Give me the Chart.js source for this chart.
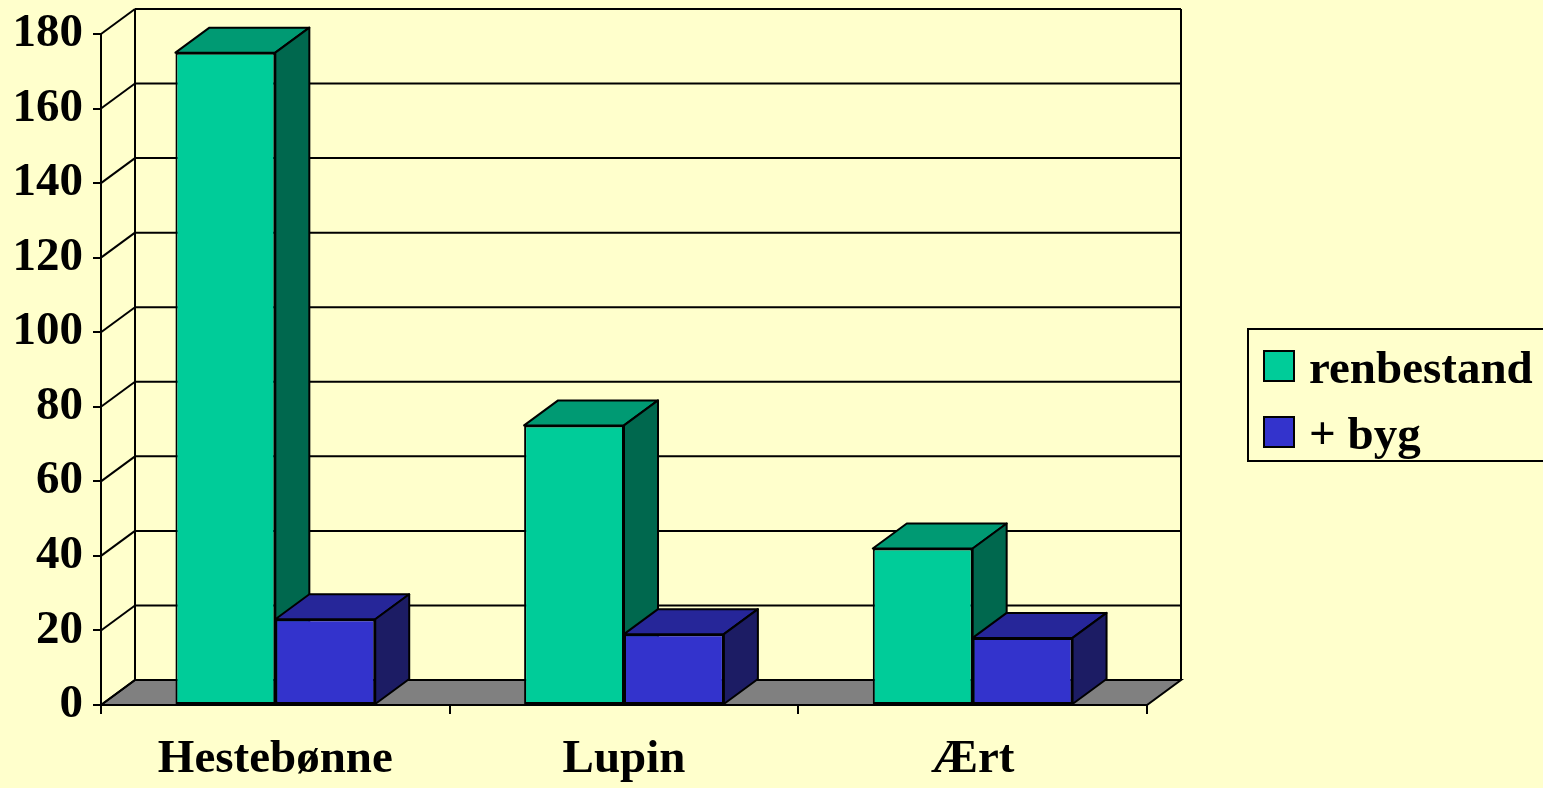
<!DOCTYPE html>
<html>
<head>
<meta charset="utf-8">
<title>Avling</title>
<script src="https://cdn.jsdelivr.net/npm/chart.js"></script>
<style>
  html, body { margin: 0; padding: 0; background: #ffffcc; overflow: hidden; }
  #wrap { position: relative; width: 1543px; height: 788px; }
</style>
</head>
<body>
<div id="wrap"><canvas id="chart"></canvas></div>
<script>
// Data
const categories = ['Hestebønne', 'Lupin', 'Ært'];
const seriesNames = ['renbestand', '+ byg'];
const renbestand = [175, 75, 42];
const medByg = [23, 19, 18];
const yMax = 180;
const yStep = 20;

// Face colours per series: front, top, side
const frontColors = ['#00cc99', '#3333cc'];
const topColors = ['#009a73', '#262699'];
const sideColors = ['#00684e', '#1c1c64'];

const FONT = { family: '"Liberation Serif", "Times New Roman", serif', size: 47, weight: 'bold' };
const DX = 34;   // depth offset, horizontal
const DY = 25;   // depth offset, vertical

function poly(ctx, pts, fill) {
    ctx.beginPath();
    ctx.moveTo(pts[0][0], pts[0][1]);
    for (let i = 1; i < pts.length; i++) ctx.lineTo(pts[i][0], pts[i][1]);
    ctx.closePath();
    if (fill) { ctx.fillStyle = fill; ctx.fill(); }
    ctx.stroke();
}

function line(ctx, x1, y1, x2, y2) {
    ctx.beginPath();
    ctx.moveTo(x1, y1);
    ctx.lineTo(x2, y2);
    ctx.stroke();
}

// Back wall, floor and the 3D faces of the bars
const box3d = {
    id: 'box3d',
    beforeDraw(chart) {
        const ctx = chart.ctx;
        ctx.save();
        ctx.fillStyle = '#ffffcc';
        ctx.fillRect(0, 0, chart.width, chart.height);
        ctx.restore();
    },
    beforeDatasetsDraw(chart) {
        const { ctx, chartArea: a, scales: { y } } = chart;
        const y0 = y.getPixelForValue(0);
        const yTop = y.getPixelForValue(y.max);
        ctx.save();
        ctx.strokeStyle = '#000';
        ctx.lineWidth = 2;

        // floor
        poly(ctx, [[a.left, y0], [a.left + DX, y0 - DY], [a.right + DX, y0 - DY], [a.right, y0]], '#808080');

        // gridlines on the back wall + diagonals on the side
        y.ticks.forEach(t => {
            const py = y.getPixelForValue(t.value);
            line(ctx, a.left + DX, py - DY, a.right + DX, py - DY);
            line(ctx, a.left, py, a.left + DX, py - DY);
        });

        // wall edges
        line(ctx, a.left + DX, yTop - DY, a.left + DX, y0 - DY);
        line(ctx, a.right + DX, yTop - DY, a.right + DX, y0 - DY);
        ctx.restore();
    },
    // bars are painted below, left series first, so the default pass is skipped
    beforeDatasetDraw() {
        return false;
    },
    afterDatasetsDraw(chart) {
        const ctx = chart.ctx;
        chart.data.datasets.forEach((ds, i) => {
            const meta = chart.getDatasetMeta(i);
            meta.data.forEach(bar => {
                bar.draw(ctx);
                const { x, y, base, width } = bar.getProps(['x', 'y', 'base', 'width'], true);
                const l = x - width / 2, r = x + width / 2;
                ctx.save();
                ctx.strokeStyle = '#000';
                ctx.lineWidth = 2;
                ctx.lineJoin = 'round';
                poly(ctx, [[l, y], [l + DX, y - DY], [r + DX, y - DY], [r, y]], topColors[i]);
                poly(ctx, [[r, y], [r + DX, y - DY], [r + DX, base - DY], [r, base]], sideColors[i]);
                ctx.restore();
            });
        });
    },
    afterDraw(chart) {
        // legend with a framed box
        const ctx = chart.ctx;
        ctx.save();
        ctx.strokeStyle = '#000';
        ctx.lineWidth = 2;
        ctx.strokeRect(1248, 329, 320, 132);
        ctx.font = `${FONT.weight} ${FONT.size}px ${FONT.family}`;
        ctx.textBaseline = 'alphabetic';
        chart.data.datasets.forEach((ds, k) => {
            const top = 351 + k * 66;
            ctx.fillStyle = ds.backgroundColor;
            ctx.fillRect(1264, top, 30, 30);
            ctx.strokeRect(1264, top, 30, 30);
            ctx.fillStyle = '#000';
            ctx.fillText(ds.label, 1309, top + 32);
        });
        ctx.restore();
    }
};

new Chart(document.getElementById('chart'), {
    type: 'bar',
    data: {
        labels: categories,
        datasets: [renbestand, medByg].map((values, i) => ({
            label: seriesNames[i],
            data: values,
            backgroundColor: frontColors[i],
            borderColor: '#000',
            borderWidth: 2,
            borderSkipped: false,
            categoryPercentage: 0.573,
            barPercentage: 1,
            clip: false
        }))
    },
    options: {
        responsive: true,
        maintainAspectRatio: false,
        animation: false,
        devicePixelRatio: 1,
        layout: { padding: { left: 0, top: 34, right: 396, bottom: 0 } },
        plugins: {
            legend: { display: false },
            tooltip: { enabled: false }
        },
        scales: {
            x: {
                grid: { offset: true, drawOnChartArea: false, drawTicks: true, tickLength: 9, color: '#000', lineWidth: 2 },
                border: { display: true, color: '#000', width: 2 },
                ticks: { color: '#000', font: FONT, padding: 18, maxRotation: 0 },
                afterFit(scale) { scale.height = 83; }
            },
            y: {
                min: 0,
                max: yMax,
                grid: { drawOnChartArea: false, drawTicks: true, tickLength: 8, color: '#000', lineWidth: 2 },
                border: { display: true, color: '#000', width: 2 },
                ticks: { stepSize: yStep, color: '#000', font: { ...FONT, lineHeight: 1 }, padding: 10 },
                afterFit(scale) { scale.width = 101; }
            }
        }
    },
    plugins: [box3d]
});
</script>
</body>
</html>
